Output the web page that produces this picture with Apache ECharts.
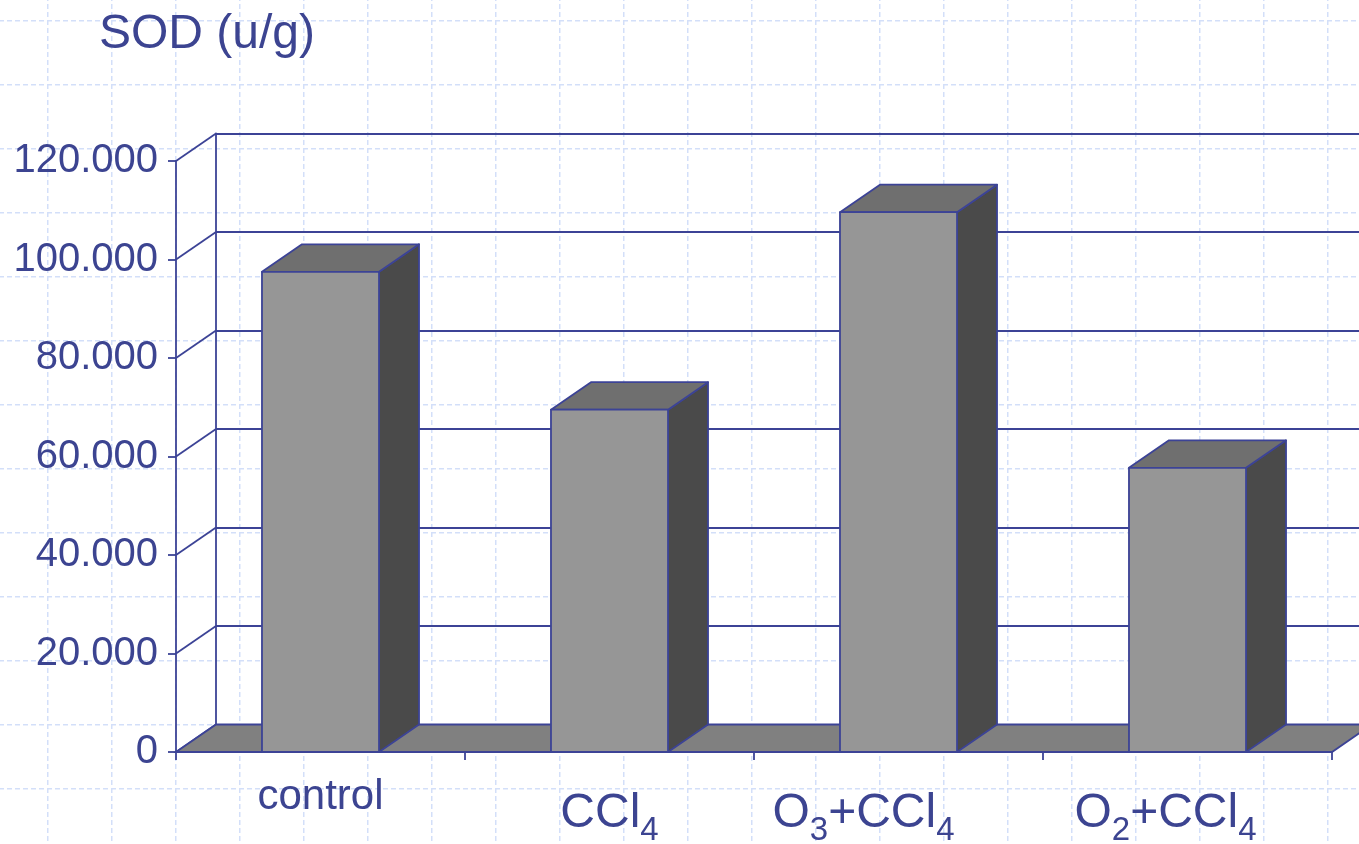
<!DOCTYPE html>
<html><head><meta charset="utf-8">
<script src="https://cdn.jsdelivr.net/npm/echarts@6/dist/echarts.min.js"></script>
<style>
html,body{margin:0;padding:0;background:#fff;}
#c{width:1359px;height:844px;background-color:#fff;
background-image:url("data:image/svg+xml,%3Csvg xmlns='http://www.w3.org/2000/svg' width='64' height='64'%3E%3Cpath d='M0.75 0V64M0 0.75H64' stroke='%23d3dff9' stroke-width='1.5' stroke-dasharray='5 3' fill='none'/%3E%3C/svg%3E");
background-position:47px 20px;}
</style></head><body><div id="c"></div>
<script>
const categories = ['control', 'CCl4', 'O3+CCl4', 'O2+CCl4'];
const sodValues = [97.5, 69.5, 109.6, 57.7];
const yTicks = [0, 20, 40, 60, 80, 100, 120];
const yTickLabels = ['0', '20.000', '40.000', '60.000', '80.000', '100.000', '120.000'];
const titleText = 'SOD (u/g)';

const TEXT = '#3c4491', LINE = '#3c4396';
const FRONT = '#969696', TOP = '#6f6f6f', SIDE = '#4a4a4a', FLOOR = '#808080';
const FONT = "'Liberation Sans', Arial, sans-serif";
const DX = 40, DY = -27.5;
const LW = 1.8;
const labelShift = [0, 0, 70, 44];

const chart = echarts.init(document.getElementById('c'), null, {renderer: 'canvas'});

function catEdges(api) {
  const w = api.size([1, 0])[0];
  const first = api.coord([0, 0]);
  const last = api.coord([categories.length - 1, 0]);
  return {xl: first[0] - w / 2, xr: last[0] + w / 2, y0: first[1], w};
}

const option = {
  animation: false,
  title: {text: titleText, left: 94, top: 6,
    textStyle: {fontSize: 48, fontWeight: 'normal', color: TEXT, fontFamily: FONT}},
  grid: [
    {left: 176, right: 27, top: 161, bottom: 92, containLabel: false, outerBoundsMode: 'none'},
    {left: 176 + DX, right: 27 - DX, top: 161 + DY, bottom: 92 - DY, containLabel: false, outerBoundsMode: 'none'}
  ],
  xAxis: [
    {type: 'category', gridIndex: 0,
      data: categories.map((c, i) => ({value: c, textStyle: {padding: [0, labelShift[i], 0, 0]}})),
      axisLine: {show: true, lineStyle: {color: LINE, width: LW}},
      axisTick: {show: true, length: 8, interval: 0, lineStyle: {color: LINE, width: LW}},
      axisLabel: {interval: 0, margin: 34, color: TEXT, fontFamily: FONT,
        formatter: function (val) {
          if (!/\d/.test(val)) return '{c|' + val + '}';
          return val.replace(/(\D+)|(\d+)/g, function (m, a, d) { return a ? '{m|' + a + '}' : '{s|' + d + '}'; });
        },
        rich: {
          c: {fontSize: 42, lineHeight: 23, color: TEXT, fontFamily: FONT},
          m: {fontSize: 48, lineHeight: 56, color: TEXT, fontFamily: FONT},
          s: {fontSize: 33, height: 23, lineHeight: 23, verticalAlign: 'bottom', color: TEXT, fontFamily: FONT}
        }
      },
      splitLine: {show: false}
    },
    {type: 'value', gridIndex: 1, min: 0, max: 1, show: false}
  ],
  yAxis: [
    {type: 'value', gridIndex: 0, min: 0, max: 120, interval: 20,
      axisLine: {show: true, lineStyle: {color: LINE, width: LW}},
      axisTick: {show: true, length: 8, lineStyle: {color: LINE, width: LW}},
      axisLabel: {fontSize: 40, color: TEXT, fontFamily: FONT, margin: 18,
        formatter: function (v) { const i = yTicks.indexOf(v); return i >= 0 ? yTickLabels[i] : ''; }},
      splitLine: {show: false}
    },
    {type: 'value', gridIndex: 1, min: 0, max: 120, interval: 20,
      axisLine: {show: true, lineStyle: {color: LINE, width: LW}},
      axisTick: {show: false}, axisLabel: {show: false},
      splitLine: {show: true, lineStyle: {color: LINE, width: LW}}
    }
  ],
  series: [
    {type: 'custom', name: 'walls', xAxisIndex: 0, yAxisIndex: 0, clip: false, z: 1,
      data: yTicks.map(v => [0, v]),
      renderItem: function (params, api) {
        const e = catEdges(api);
        const p = api.coord([0, api.value(1)]);
        return {type: 'line', shape: {x1: e.xl, y1: p[1], x2: e.xl + DX, y2: p[1] + DY},
          style: {stroke: LINE, lineWidth: LW}};
      }
    },
    {type: 'custom', name: 'floor', xAxisIndex: 0, yAxisIndex: 0, clip: false, z: 2,
      data: [[0, 0]],
      renderItem: function (params, api) {
        const e = catEdges(api);
        return {type: 'polygon',
          shape: {points: [[e.xl, e.y0], [e.xr, e.y0], [e.xr + DX, e.y0 + DY], [e.xl + DX, e.y0 + DY]]},
          style: {fill: FLOOR, stroke: LINE, lineWidth: LW}};
      }
    },
    {type: 'custom', name: 'SOD', xAxisIndex: 0, yAxisIndex: 0, clip: false, z: 3,
      data: sodValues.map((v, i) => [i, v]),
      renderItem: function (params, api) {
        const ci = api.value(0), v = api.value(1);
        const t = api.coord([ci, v]);
        const b = api.coord([ci, 0]);
        const bw = api.size([1, 0])[0] * 0.405;
        const xl = t[0] - bw / 2, xr = t[0] + bw / 2, yt = t[1], yb = b[1];
        const st = (f) => ({fill: f, stroke: LINE, lineWidth: LW, lineJoin: 'round'});
        return {type: 'group', children: [
          {type: 'polygon', shape: {points: [[xr, yt], [xr + DX, yt + DY], [xr + DX, yb + DY], [xr, yb]]}, style: st(SIDE)},
          {type: 'polygon', shape: {points: [[xl, yt], [xl + DX, yt + DY], [xr + DX, yt + DY], [xr, yt]]}, style: st(TOP)},
          {type: 'rect', shape: {x: xl, y: yt, width: bw, height: yb - yt}, style: st(FRONT)}
        ]};
      }
    }
  ]
};
chart.setOption(option);
</script></body></html>
